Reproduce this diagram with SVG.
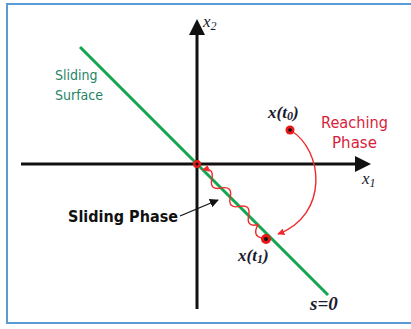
<svg xmlns="http://www.w3.org/2000/svg" width="411" height="329" viewBox="0 0 411 329">
<style>
.axis{stroke:#111;stroke-width:3;fill:none}
.math{font-family:"Liberation Serif","DejaVu Serif",serif;font-style:italic;fill:#1a1a2e}
.lbl{font-family:"DejaVu Sans Condensed","Liberation Sans",sans-serif}
.red{stroke:#f02a2a;stroke-width:1.4;fill:none}
</style>
<defs>
<marker id="ra" viewBox="0 0 10 10" refX="9" refY="5" markerWidth="7" markerHeight="7" markerUnits="userSpaceOnUse" orient="auto-start-reverse"><path d="M0,0 L10,5 L0,10 z" fill="#f02a2a"/></marker>
<marker id="ka" viewBox="0 0 10 10" refX="9" refY="5" markerWidth="9" markerHeight="9" markerUnits="userSpaceOnUse" orient="auto"><path d="M0,0 L10,5 L0,10 z" fill="#111"/></marker>
</defs>
<rect x="7" y="4" width="410" height="319" fill="#fff" stroke="#5b9bd5" stroke-width="2"/>
<g id="axes">
<line class="axis" x1="21" y1="164" x2="358" y2="164"/>
<path d="M371,164 L355,156 L355,172 z" fill="#111"/>
<line class="axis" x1="197" y1="309" x2="197" y2="32"/>
<path d="M197,19 L189,35 L205,35 z" fill="#111"/>
<text class="math" x="203" y="27" font-size="17">x<tspan font-size="12" dy="3">2</tspan></text>
<text class="math" x="362" y="184" font-size="17">x<tspan font-size="12" dy="3">1</tspan></text>
</g>
<g id="surface">
<line x1="80" y1="47" x2="328" y2="295" stroke="#12a650" stroke-width="3"/>
<text class="lbl" x="55" y="80" font-size="14" fill="#1f8466">Sliding</text>
<text class="lbl" x="55" y="100" font-size="14" fill="#1f8466">Surface</text>
<text class="math" x="310" y="310" font-size="19" font-weight="bold">s=0</text>
</g>
<g id="connectors">
<path class="red" d="M290,130 C324,150 329,215 278,234" marker-end="url(#ra)"/>
<path class="red" d="M202.7,169.7 Q214.3,167.2 211.85,178.85 T221.04,188.04 T230.23,197.23 T239.43,206.43 T248.62,215.62 T257.81,224.81 Q252,236 262,238" marker-start="url(#ra)"/>
<line x1="180" y1="216" x2="218" y2="200" stroke="#111" stroke-width="1.2" marker-end="url(#ka)"/>
</g>
<g id="origin">
<circle cx="197" cy="164" r="4" fill="#e81818"/>
<circle cx="197" cy="164" r="1.6" fill="#111"/>
</g>
<g id="x_t0">
<circle cx="290" cy="130" r="4.5" fill="#e81818"/>
<circle cx="290" cy="130" r="1.8" fill="#111"/>
<text class="math" x="268" y="118" font-size="17" font-weight="bold">x(t<tspan font-size="12" dy="2">0</tspan><tspan dy="-2">)</tspan></text>
</g>
<g id="x_t1">
<circle cx="266" cy="239" r="5" fill="#e81818"/>
<circle cx="266" cy="239" r="2" fill="#111"/>
<text class="math" x="238" y="261" font-size="17" font-weight="bold">x(t<tspan font-size="12" dy="2">1</tspan><tspan dy="-2">)</tspan></text>
</g>
<g id="reaching">
<text class="lbl" x="321" y="128" font-size="15" fill="#d81e3c" textLength="67" lengthAdjust="spacingAndGlyphs">Reaching</text>
<text class="lbl" x="332" y="148" font-size="15" fill="#d81e3c" textLength="45" lengthAdjust="spacingAndGlyphs">Phase</text>
</g>
<g id="sliding_phase">
<text class="lbl" x="68" y="222" font-size="15" font-weight="bold" fill="#111" textLength="110" lengthAdjust="spacingAndGlyphs">Sliding Phase</text>
</g>
</svg>
